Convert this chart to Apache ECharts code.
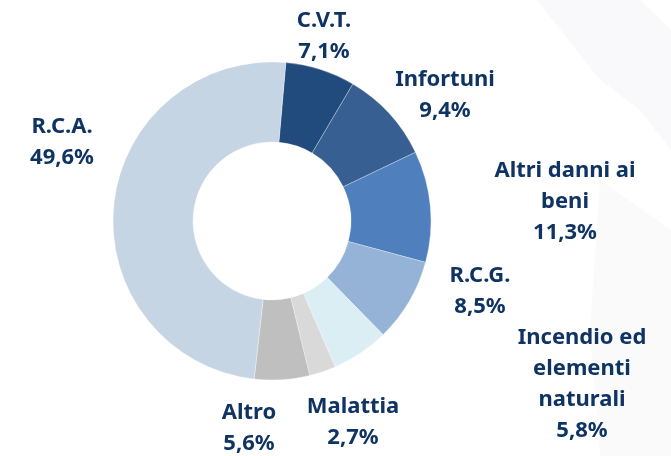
<!DOCTYPE html>
<html>
<head>
<meta charset="utf-8">
<script src="https://cdn.jsdelivr.net/npm/echarts@6/dist/echarts.min.js"></script>
<style>
html,body{margin:0;padding:0;background:#ffffff;}
#chart{width:671px;height:456px;}
</style>
</head>
<body>
<div id="chart"></div>
<script>
// ---- data ----
var categories = ['C.V.T.', 'Infortuni', 'Altri danni ai\nbeni', 'R.C.G.', 'Incendio ed\nelementi\nnaturali', 'Malattia', 'Altro', 'R.C.A.'];
var shares = [7.1, 9.4, 11.3, 8.5, 5.8, 2.7, 5.6, 49.6];

// ---- styling ----
var colors = ['#214a7d', '#375f92', '#4f80bd', '#95b3d7', '#dbeef4', '#d9d9d9', '#bfbfbf', '#c6d5e4'];
var labelAnchors = [[324, 36], [445, 95], [565, 202], [480, 291], [582, 384], [353, 422], [249, 428], [62, 142]];

var chart = echarts.init(document.getElementById('chart'), null, {renderer: 'canvas'});
var data = categories.map(function (c, i) {
  return {name: c, value: shares[i], itemStyle: {color: colors[i]}};
});

chart.setOption({
  animation: false,
  backgroundColor: '#ffffff',
  graphic: [
    {type: 'polygon', z: -10, shape: {points: [[537, 0], [640, 0], [671, 30], [671, 150], [640, 110], [600, 80]]}, style: {fill: '#f9f9fb'}},
    {type: 'polygon', z: -10, shape: {points: [[600, 180], [671, 230], [671, 456], [600, 456], [590, 330]]}, style: {fill: '#fafafb'}}
  ],
  series: [{
    type: 'pie',
    center: [272, 221],
    radius: [79, 159],
    startAngle: 85,
    clockwise: true,
    avoidLabelOverlap: false,
    itemStyle: {borderColor: 'rgba(255,255,255,0.6)', borderWidth: 0.5},
    label: {
      show: true,
      position: 'outside',
      formatter: function (p) {
        return p.name + '\n' + p.value.toFixed(1).replace('.', ',') + '%';
      },
      fontFamily: 'Noto Sans',
      fontWeight: 'bold',
      fontSize: 22,
      lineHeight: 31,
      color: '#0f3463',
      align: 'center'
    },
    labelLine: {show: false},
    labelLayout: function (params) {
      var a = labelAnchors[params.dataIndex];
      return {x: a[0], y: a[1], align: 'center', verticalAlign: 'middle'};
    },
    emphasis: {disabled: true},
    data: data
  }]
});
</script>
</body>
</html>
